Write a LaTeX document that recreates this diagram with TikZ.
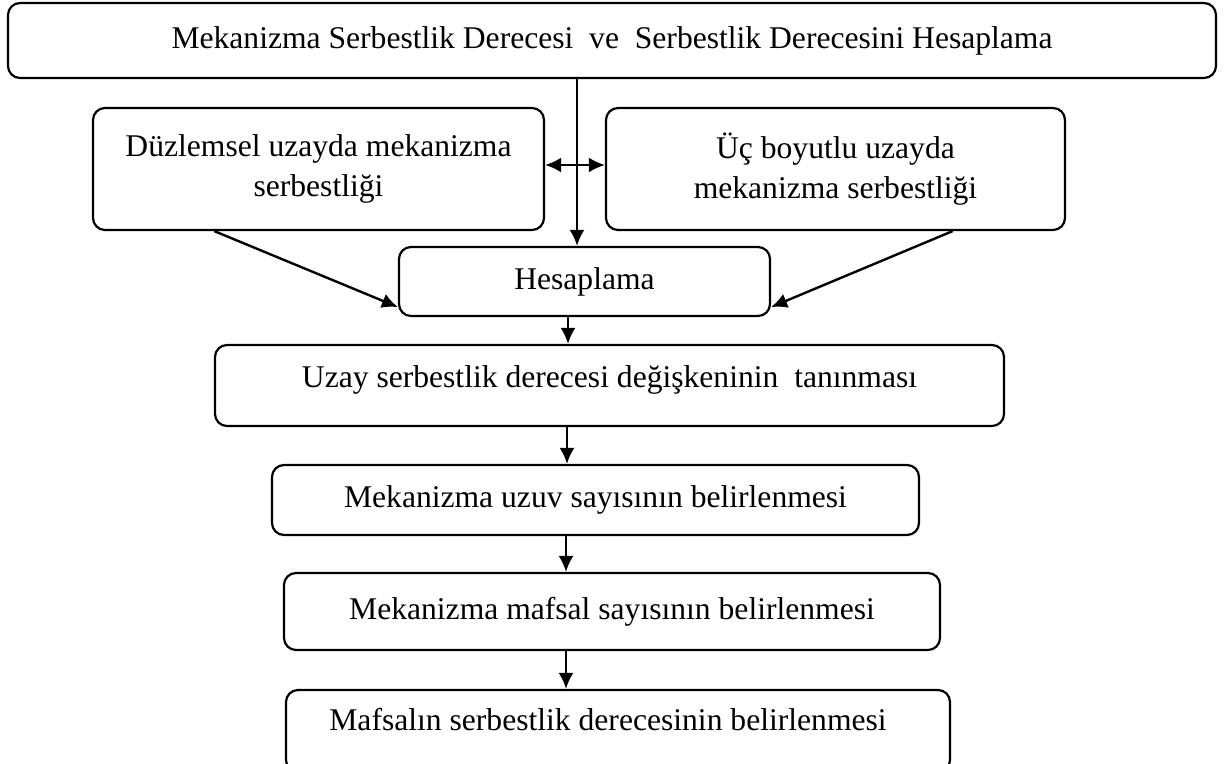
\documentclass[tikz,border=0pt]{standalone}
\usepackage{fontspec}
\setmainfont{Liberation Serif}
\usetikzlibrary{arrows.meta,calc}

\begin{document}
\begin{tikzpicture}[x=0.5pt,y=-0.5pt,
    kutu/.style={draw,rectangle,rounded corners=6pt,line width=1.1pt,align=center,inner sep=0pt,
      font=\fontsize{15.8}{20}\selectfont},
    ok/.style={line width=1.2pt,-{Latex[length=8pt,width=7.5pt]}},
    ciftok/.style={line width=1.2pt,{Latex[length=8pt,width=7.5pt]}-{Latex[length=8pt,width=7.5pt]}}]
  \useasboundingbox (0,0) rectangle (1224,764);

  \node[kutu,minimum width=604pt,minimum height=37.5pt] (ana) at (612,40.5) {Mekanizma Serbestlik Derecesi\ \ ve\ \ Serbestlik Derecesini Hesaplama};
  \node[kutu,minimum width=225.5pt,minimum height=61pt] (duz) at (318.5,169) {Düzlemsel uzayda mekanizma\\ serbestliği};
  \node[kutu,minimum width=229.5pt,minimum height=61pt] (uc) at (835.5,169) {Üç boyutlu uzayda\\ mekanizma serbestliği};
  \node[kutu,minimum width=185.5pt,minimum height=34.5pt] (hesap) at (584.5,281.5) {Hesaplama};
  \node[kutu,minimum width=394.5pt,minimum height=40.5pt,text height=11pt,text depth=9pt] (uzay) at (609.5,385.5) {Uzay serbestlik derecesi değişkeninin\ \ tanınması};
  \node[kutu,minimum width=323.5pt,minimum height=35pt] (uzuv) at (595.5,500) {Mekanizma uzuv sayısının belirlenmesi};
  \node[kutu,minimum width=328pt,minimum height=38.5pt] (mafsal) at (612,611.5) {Mekanizma mafsal sayısının belirlenmesi};
  \node[kutu,minimum width=332pt,minimum height=41pt,text height=11pt,text depth=12pt] (mafsalin) at (618,731) {Mafsalın serbestlik derecesinin belirlenmesi\hspace*{10pt}};

  \coordinate (orta) at (577,0);
  \coordinate (hiza) at (566,0);
  \draw[ok] (ana.south -| orta) -- (hesap.north -| orta);
  \draw[ciftok] ([yshift=2pt]duz.east) -- ([yshift=2pt]uc.west);
  \draw[ok] ($(duz.south west)!0.27!(duz.south east)$) -- ([yshift=5pt]hesap.south west);
  \draw[ok] ($(uc.south west)!0.754!(uc.south east)$) -- ([yshift=5pt]hesap.south east);
  \draw[ok] ([xshift=1pt]hesap.south -| hiza) -- ([xshift=1pt]uzay.north -| hiza);
  \draw[ok] ([xshift=0.5pt]uzay.south -| hiza) -- ([xshift=0.5pt]uzuv.north -| hiza);
  \draw[ok] (uzuv.south -| hiza) -- (mafsal.north -| hiza);
  \draw[ok] (mafsal.south -| hiza) -- (mafsalin.north -| hiza);
\end{tikzpicture}
\end{document}
